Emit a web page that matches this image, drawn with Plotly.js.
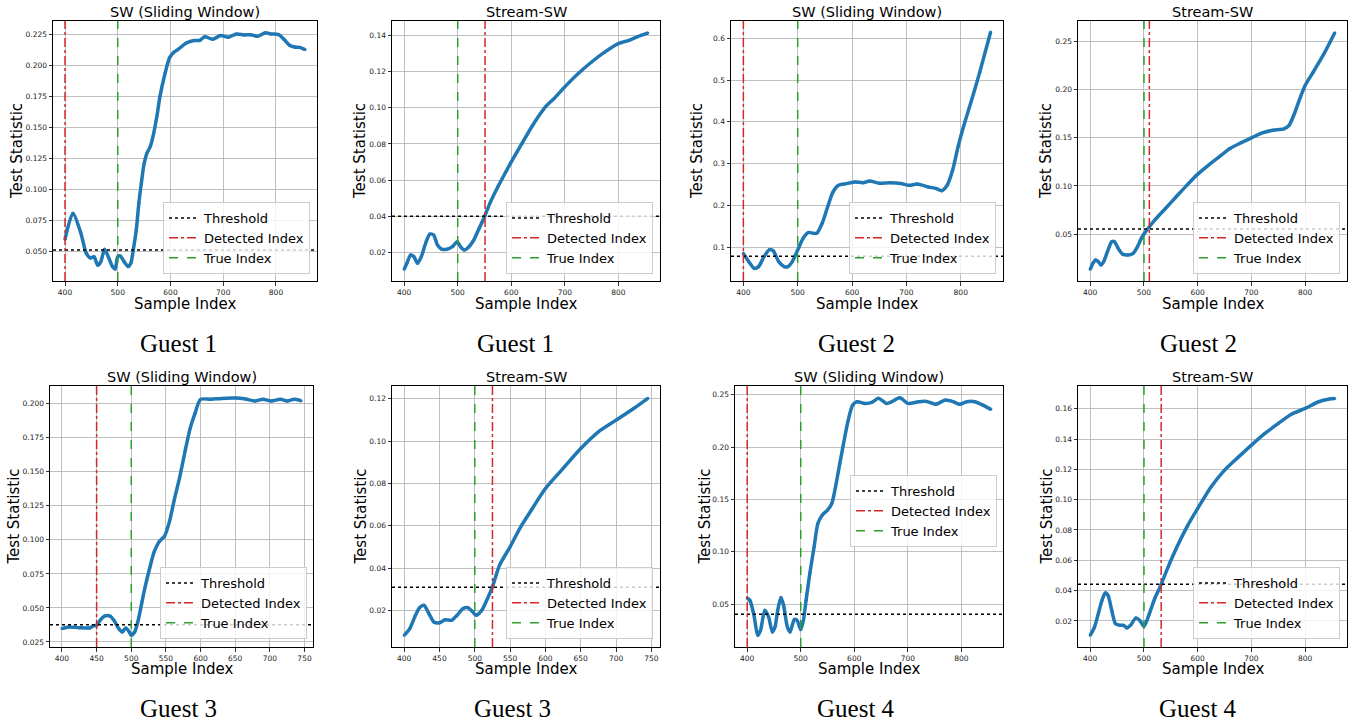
<!DOCTYPE html>
<html><head><meta charset="utf-8">
<script src="https://cdn.plot.ly/plotly-3.0.1.min.js"></script>
<style>html,body{margin:0;padding:0;background:#fff}#chart{width:1354px;height:724px}</style>
</head><body><div id="chart"></div><script>
// ---------- data ----------
const g1SwX = [400,415,430,440,448,455,462,468,475,482,490,495,500,505,512,520,525,530,535,540,545,550,555,562,568,575,580,590,598,605,615,630,645,655,665,680,695,710,725,740,752,765,780,790,805,815,825,835,845,855];
const g1SwY = [0.060,0.081,0.065,0.049,0.045,0.046,0.039,0.042,0.052,0.046,0.038,0.036,0.046,0.0465,0.042,0.038,0.041,0.053,0.067,0.089,0.106,0.121,0.129,0.135,0.145,0.161,0.175,0.194,0.206,0.210,0.213,0.218,0.220,0.220,0.223,0.221,0.224,0.2226,0.2253,0.2245,0.2247,0.2234,0.2263,0.2253,0.2247,0.221,0.2164,0.2148,0.2145,0.2127];
const g1StX = [400,405,412,418,425,432,440,448,455,462,470,480,490,499,505,512,520,530,540,550,560,575,590,600,620,640,665,680,700,725,750,775,800,820,835,855];
const g1StY = [0.0106,0.0139,0.0185,0.0176,0.0139,0.0176,0.025,0.0301,0.0296,0.0241,0.0217,0.0217,0.0231,0.0259,0.0231,0.0213,0.0228,0.0268,0.0333,0.0397,0.0471,0.0563,0.0646,0.0701,0.0803,0.0904,0.1009,0.1052,0.1116,0.119,0.1254,0.131,0.1356,0.1374,0.1393,0.1415];
const g2SwX = [400,410,420,428,438,448,455,465,475,482,490,500,510,520,528,535,545,555,565,575,590,605,620,632,650,670,690,705,720,740,755,765,775,785,795,805,820,835,855];
const g2SwY = [0.085,0.065,0.049,0.053,0.077,0.094,0.091,0.065,0.053,0.053,0.065,0.093,0.121,0.135,0.133,0.133,0.157,0.196,0.232,0.248,0.252,0.256,0.254,0.258,0.253,0.254,0.252,0.248,0.251,0.244,0.240,0.235,0.248,0.284,0.34,0.388,0.452,0.519,0.615];
const g2StX = [400,405,410,415,420,425,432,440,445,452,460,470,480,488,495,500,510,520,540,560,580,600,620,640,660,680,700,720,740,760,770,780,790,800,815,835,855];
const g2StY = [0.0133,0.0196,0.023,0.0213,0.0178,0.0213,0.0317,0.042,0.042,0.0351,0.0292,0.0282,0.030,0.0369,0.0455,0.050,0.0576,0.0645,0.0766,0.0888,0.1009,0.1123,0.1216,0.1303,0.1389,0.1448,0.150,0.1552,0.158,0.1593,0.1631,0.1753,0.1908,0.2047,0.2185,0.2375,0.2593];
const g3SwX = [400,410,425,440,445,450,455,462,470,475,482,487,492,497,500,505,510,515,520,527,533,540,548,555,562,570,578,585,592,600,615,630,650,665,678,690,702,715,725,735,745];
const g3SwY = [0.0348,0.036,0.0355,0.0353,0.0368,0.0373,0.0409,0.0441,0.0439,0.0409,0.0348,0.0324,0.0353,0.0324,0.0299,0.0324,0.0409,0.0532,0.0654,0.0801,0.0912,0.0985,0.1027,0.1132,0.1292,0.1463,0.1659,0.1819,0.1929,0.2032,0.2032,0.2039,0.2042,0.2034,0.202,0.2032,0.202,0.2032,0.202,0.2032,0.2022];
const g3StX = [400,408,415,422,428,435,442,450,458,467,475,483,490,497,502,510,518,525,535,550,565,580,600,625,650,675,700,725,745];
const g3StY = [0.0083,0.0115,0.017,0.0214,0.0225,0.0186,0.0146,0.0142,0.0157,0.0154,0.0178,0.0209,0.0214,0.0194,0.0178,0.0202,0.0257,0.0312,0.0414,0.0501,0.0595,0.0674,0.0776,0.0871,0.0965,0.1044,0.1099,0.1154,0.1202];
const g4SwX = [400,405,412,420,425,433,440,447,452,457,463,468,475,480,488,493,500,505,510,517,525,532,540,550,558,565,573,580,588,597,605,620,633,645,660,670,685,700,720,735,752,770,785,797,810,825,840,855];
const g4SwY = [0.056,0.0538,0.0411,0.0204,0.0252,0.0443,0.0379,0.0236,0.0283,0.0443,0.0564,0.049,0.0283,0.0236,0.0354,0.0347,0.0258,0.0347,0.0538,0.0793,0.1048,0.1271,0.135,0.1398,0.1462,0.1621,0.1844,0.2035,0.2242,0.2401,0.2433,0.2417,0.2427,0.2465,0.2417,0.2433,0.2471,0.2417,0.2433,0.2436,0.2408,0.2449,0.2433,0.2408,0.2433,0.2433,0.2401,0.236];
const g4StX = [400,408,415,422,428,433,440,447,455,462,468,475,485,492,500,510,520,530,545,560,580,600,625,650,675,700,725,750,775,800,825,845,855];
const g4StY = [0.0105,0.016,0.0248,0.0337,0.0385,0.037,0.027,0.0182,0.0171,0.0171,0.0154,0.0171,0.022,0.0204,0.0165,0.0248,0.0348,0.0425,0.0557,0.0678,0.0821,0.0942,0.1085,0.1195,0.1279,0.136,0.1437,0.1503,0.1565,0.1602,0.1646,0.1664,0.1668];

const panelTitles = ["SW (Sliding Window)","Stream-SW","SW (Sliding Window)","Stream-SW","SW (Sliding Window)","Stream-SW","SW (Sliding Window)","Stream-SW"];
const captions = ["Guest 1","Guest 1","Guest 2","Guest 2","Guest 3","Guest 3","Guest 4","Guest 4"];
const thresholds = [0.0513,0.0400,0.0777,0.0552,0.0377,0.0310,0.0404,0.0442];
const detectedIdx = [400,551,400,510,450,525,400,532];
const trueIdx = [500,500,500,500,500,500,500,500];
const seriesX = [g1SwX,g1StX,g2SwX,g2StX,g3SwX,g3StX,g4SwX,g4StX];
const seriesY = [g1SwY,g1StY,g2SwY,g2StY,g3SwY,g3StY,g4SwY,g4StY];
const legendNames = ["Threshold","Detected Index","True Index"];

// ---------- layout geometry (pixels) ----------
const W = 1354, H = 724;
const boxes = [
  [53,317,21,281],[392,660,21,281],[731,1003,21,281],[1078,1347,21,281],
  [50,313,386,647],[392,660,386,647],[735,1003,386,647],[1078,1347,386,647]
];
const xRanges = [[377.25,877.75],[377.25,877.75],[377.25,877.75],[377.25,877.75],[382.75,762.25],[382.75,762.25],[377.25,877.75],[377.25,877.75]];
const yRanges = [[0.0264,0.2357],[0.0041,0.1481],[0.0187,0.6415],[0.0012,0.2715],[0.0213,0.2130],[0.0028,0.1260],[0.0092,0.2583],[0.0028,0.1750]];
const yTicks = [[0.05,0.025,'.3f'],[0.02,0.02,'.2f'],[0.1,0.1,'.1f'],[0.05,0.05,'.2f'],[0.025,0.025,'.3f'],[0.02,0.02,'.2f'],[0.05,0.05,'.2f'],[0.02,0.02,'.2f']];
const xDtick = [100,100,100,100,50,50,100,100];
const ytitleX = [17,360,697,1046,13,360,704,1046];
const captionX = [178,515,856,1198,178,512,856,1198];
const legendPos = [[310,274],[653,274],[996,274],[1340,274],[307,639],[653,639],[997,547],[1340,639]];

const px = v => v / W, py = v => 1 - v / H;
const FONT = "DejaVu Sans, sans-serif";

const traces = [];
const layout = {
  width: W, height: H, margin: {l:0,r:0,t:0,b:0},
  paper_bgcolor: '#fff', plot_bgcolor: '#fff',
  font: {family: FONT, color: '#000'},
  showlegend: true, annotations: []
};

for (let i = 0; i < 8; i++) {
  const n = i + 1, sfx = n === 1 ? '' : String(n);
  const xa = 'x' + sfx, ya = 'y' + sfx, lg = 'legend' + sfx;
  const [l, r, t, b] = boxes[i];
  const xr = xRanges[i], yr = yRanges[i];
  const common = {
    showline: true, mirror: true, linecolor: '#000', linewidth: 1,
    ticks: 'outside', ticklen: 3.5, tickwidth: 0.8, tickcolor: '#000',
    showgrid: true, gridcolor: '#b0b0b0', gridwidth: 0.8, zeroline: false,
    tickfont: {size: 7.5, family: FONT, color: '#222'}, fixedrange: true
  };
  layout['xaxis' + sfx] = Object.assign({}, common, {
    domain: [px(l), px(r)], anchor: ya, range: xr, tick0: 400, dtick: xDtick[i], tickmode: 'linear'
  });
  layout['yaxis' + sfx] = Object.assign({}, common, {
    domain: [py(b), py(t)], anchor: xa, range: yr, tickmode: 'linear',
    tick0: yTicks[i][0], dtick: yTicks[i][1], tickformat: yTicks[i][2]
  });
  // main curve
  traces.push({
    type: 'scatter', mode: 'lines+markers', x: seriesX[i], y: seriesY[i], xaxis: xa, yaxis: ya,
    line: {color: '#1f77b4', width: 3.5, shape: 'spline', smoothing: 0.7},
    marker: {size: 3, color: '#1f77b4'}, showlegend: false, hoverinfo: 'skip'
  });
  // threshold
  traces.push({
    type: 'scatter', mode: 'lines', x: xr, y: [thresholds[i], thresholds[i]], xaxis: xa, yaxis: ya,
    name: legendNames[0], legend: lg, line: {color: '#000', width: 1.5, dash: 'dot'}
  });
  traces.push({
    type: 'scatter', mode: 'lines', x: [detectedIdx[i], detectedIdx[i]], y: yr, xaxis: xa, yaxis: ya,
    name: legendNames[1], legend: lg, line: {color: '#d62728', width: 1.5, dash: 'dashdot'}
  });
  traces.push({
    type: 'scatter', mode: 'lines', x: [trueIdx[i], trueIdx[i]], y: yr, xaxis: xa, yaxis: ya,
    name: legendNames[2], legend: lg, line: {color: '#2ca02c', width: 1.5, dash: 'dash'}
  });
  layout[lg] = {
    x: px(legendPos[i][0]), y: py(legendPos[i][1]), xanchor: 'right', yanchor: 'bottom',
    xref: 'paper', yref: 'paper',
    bgcolor: 'rgba(255,255,255,0.8)', bordercolor: '#cccccc', borderwidth: 1,
    font: {size: 13, family: FONT, color: '#000'}, itemwidth: 30, tracegroupgap: 0
  };
  const cx = (l + r) / 2, row2 = i >= 4;
  layout.annotations.push(
    {text: panelTitles[i], x: px(cx), y: py(row2 ? 376.5 : 11.5), xref: 'paper', yref: 'paper',
     showarrow: false, xanchor: 'center', yanchor: 'middle', font: {size: 14.5, family: FONT}},
    {text: 'Sample Index', x: px(cx), y: py(row2 ? 669 : 304), xref: 'paper', yref: 'paper',
     showarrow: false, xanchor: 'center', yanchor: 'middle', font: {size: 15, family: FONT}},
    {text: 'Test Statistic', x: px(ytitleX[i]), y: py((t + b) / 2), xref: 'paper', yref: 'paper',
     showarrow: false, xanchor: 'center', yanchor: 'middle', textangle: -90, font: {size: 15, family: FONT}},
    {text: captions[i], x: px(captionX[i]), y: py(row2 ? 708 : 343), xref: 'paper', yref: 'paper',
     showarrow: false, xanchor: 'center', yanchor: 'middle', font: {size: 25, family: 'Liberation Serif, Times New Roman, serif'}}
  );
}

Plotly.newPlot('chart', traces, layout, {staticPlot: true, displayModeBar: false});
</script></body></html>
